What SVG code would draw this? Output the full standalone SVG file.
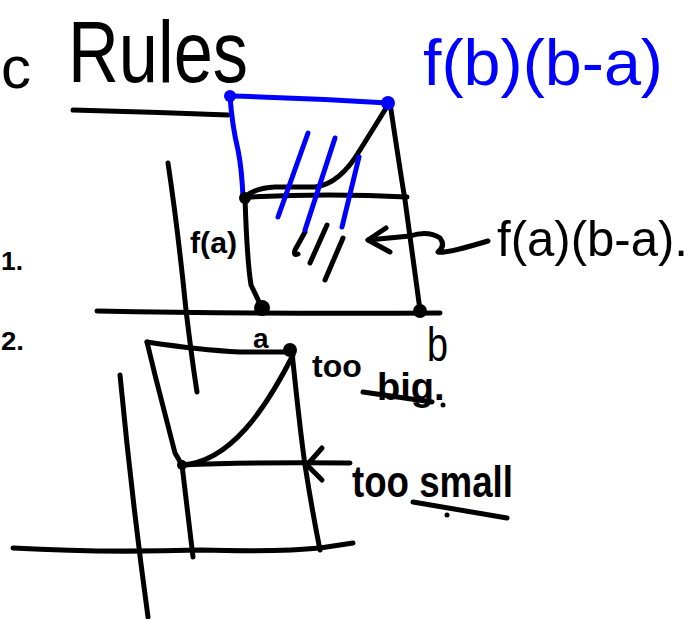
<svg xmlns="http://www.w3.org/2000/svg" width="698" height="619" viewBox="0 0 698 619">
<style>
.k{fill:none;stroke:#000;stroke-width:5;stroke-linecap:round;stroke-linejoin:round}
.b{fill:none;stroke:#0000ff;stroke-width:5;stroke-linecap:round;stroke-linejoin:round}
.t{font-family:"Liberation Sans","DejaVu Sans",sans-serif;fill:#000}
.s{font-weight:bold}
.tb{font-family:"Liberation Sans","DejaVu Sans",sans-serif;fill:#0000ff}
</style>
<rect width="698" height="619" fill="#fff"/>
<g id="texts">
<text class="t" x="1" y="88" font-size="60">c</text>
<text class="t" x="68" y="82" font-size="88" textLength="180" lengthAdjust="spacingAndGlyphs">Rules</text>
<text class="tb" x="423" y="85" font-size="64" textLength="240" lengthAdjust="spacingAndGlyphs">f(b)(b-a)</text>
<text class="t" x="497" y="256" font-size="50" textLength="191" lengthAdjust="spacingAndGlyphs">f(a)(b-a).</text>
<text class="t s" x="190" y="253" font-size="30" textLength="47" lengthAdjust="spacingAndGlyphs">f(a)</text>
<text class="t s" x="253" y="348" font-size="28">a</text>
<text class="t" x="427" y="361" font-size="48" textLength="21" lengthAdjust="spacingAndGlyphs">b</text>
<text class="t s" font-size="32"><tspan x="312" y="377">too</tspan><tspan x="377" y="400" font-size="38">big.</tspan></text>
<text class="t s" x="352" y="497" font-size="44" textLength="161" lengthAdjust="spacingAndGlyphs">too small</text>
<text class="t s" x="1" y="270" font-size="26" textLength="22" lengthAdjust="spacingAndGlyphs">1.</text>
<text class="t s" x="1" y="350" font-size="26" textLength="23" lengthAdjust="spacingAndGlyphs">2.</text>
</g>
<g id="top-graph">
<path class="k" d="M73,110 Q150,112 228,115"/>
<path class="k" d="M97,311 Q260,314 440,313"/>
<path class="k" d="M168,163 Q178,230 186,310 Q192,360 197,392"/>
<path class="k" d="M245,198 Q247,260 251,285 L262,308"/>
<path class="k" d="M390,103 Q400,170 405,200 Q413,260 420,310"/>
<path class="k" d="M248,197 Q330,193 407,197"/>
<path class="k" d="M245,197 Q255,188 275,187 L315,187 Q340,184 360,150 L388,105"/>
<path class="k" d="M305,232 L295,250 Q293,256 298,254"/>
<path class="k" d="M327,225 L310,263"/>
<path class="k" d="M343,238 L325,280"/>
<path class="k" d="M386,228 L368,240 L390,252"/>
<path class="k" d="M368,240 L410,236 Q428,230 440,238 Q446,246 438,252 Q445,254 488,241"/>
<path class="b" d="M230,96 Q310,98 388,103"/>
<path class="b" d="M230,96 Q232,125 238,150 Q242,170 243,198"/>
<path class="b" d="M308,133 L278,217"/>
<path class="b" d="M335,138 L305,230"/>
<path class="b" d="M359,157 L342,227"/>
<circle cx="230" cy="96" r="6" fill="#0000ff"/>
<circle cx="388" cy="103" r="7" fill="#0000ff"/>
<circle cx="245" cy="198" r="6" fill="#000"/>
<circle cx="262" cy="308" r="8" fill="#000"/>
<circle cx="420" cy="311" r="7" fill="#000"/>
</g>
<g id="bottom-graph">
<path class="k" d="M147,342 Q200,350 240,352 L290,352"/>
<path class="k" d="M147,342 L155,375 L175,453 L182,465"/>
<path class="k" d="M182,465 C230,462 265,410 293,355"/>
<path class="k" d="M182,465 Q250,462 350,463"/>
<path class="k" d="M322,448 L307,465 L322,480"/>
<path class="k" d="M292,352 Q300,430 305,465 Q312,510 320,550"/>
<path class="k" d="M182,465 L193,557"/>
<path class="k" d="M13,548 Q100,553 200,550 Q280,552 320,548 L353,543"/>
<path class="k" d="M120,375 Q132,500 148,617"/>
<path class="k" d="M363,392 L432,402"/>
<path class="k" d="M413,502 Q460,510 507,518"/>
<circle cx="443" cy="405" r="2.5" fill="#000"/>
<circle cx="447" cy="515" r="2.5" fill="#000"/>
<circle cx="290" cy="350" r="7" fill="#000"/>
<circle cx="182" cy="465" r="5" fill="#000"/>
</g>
</svg>
